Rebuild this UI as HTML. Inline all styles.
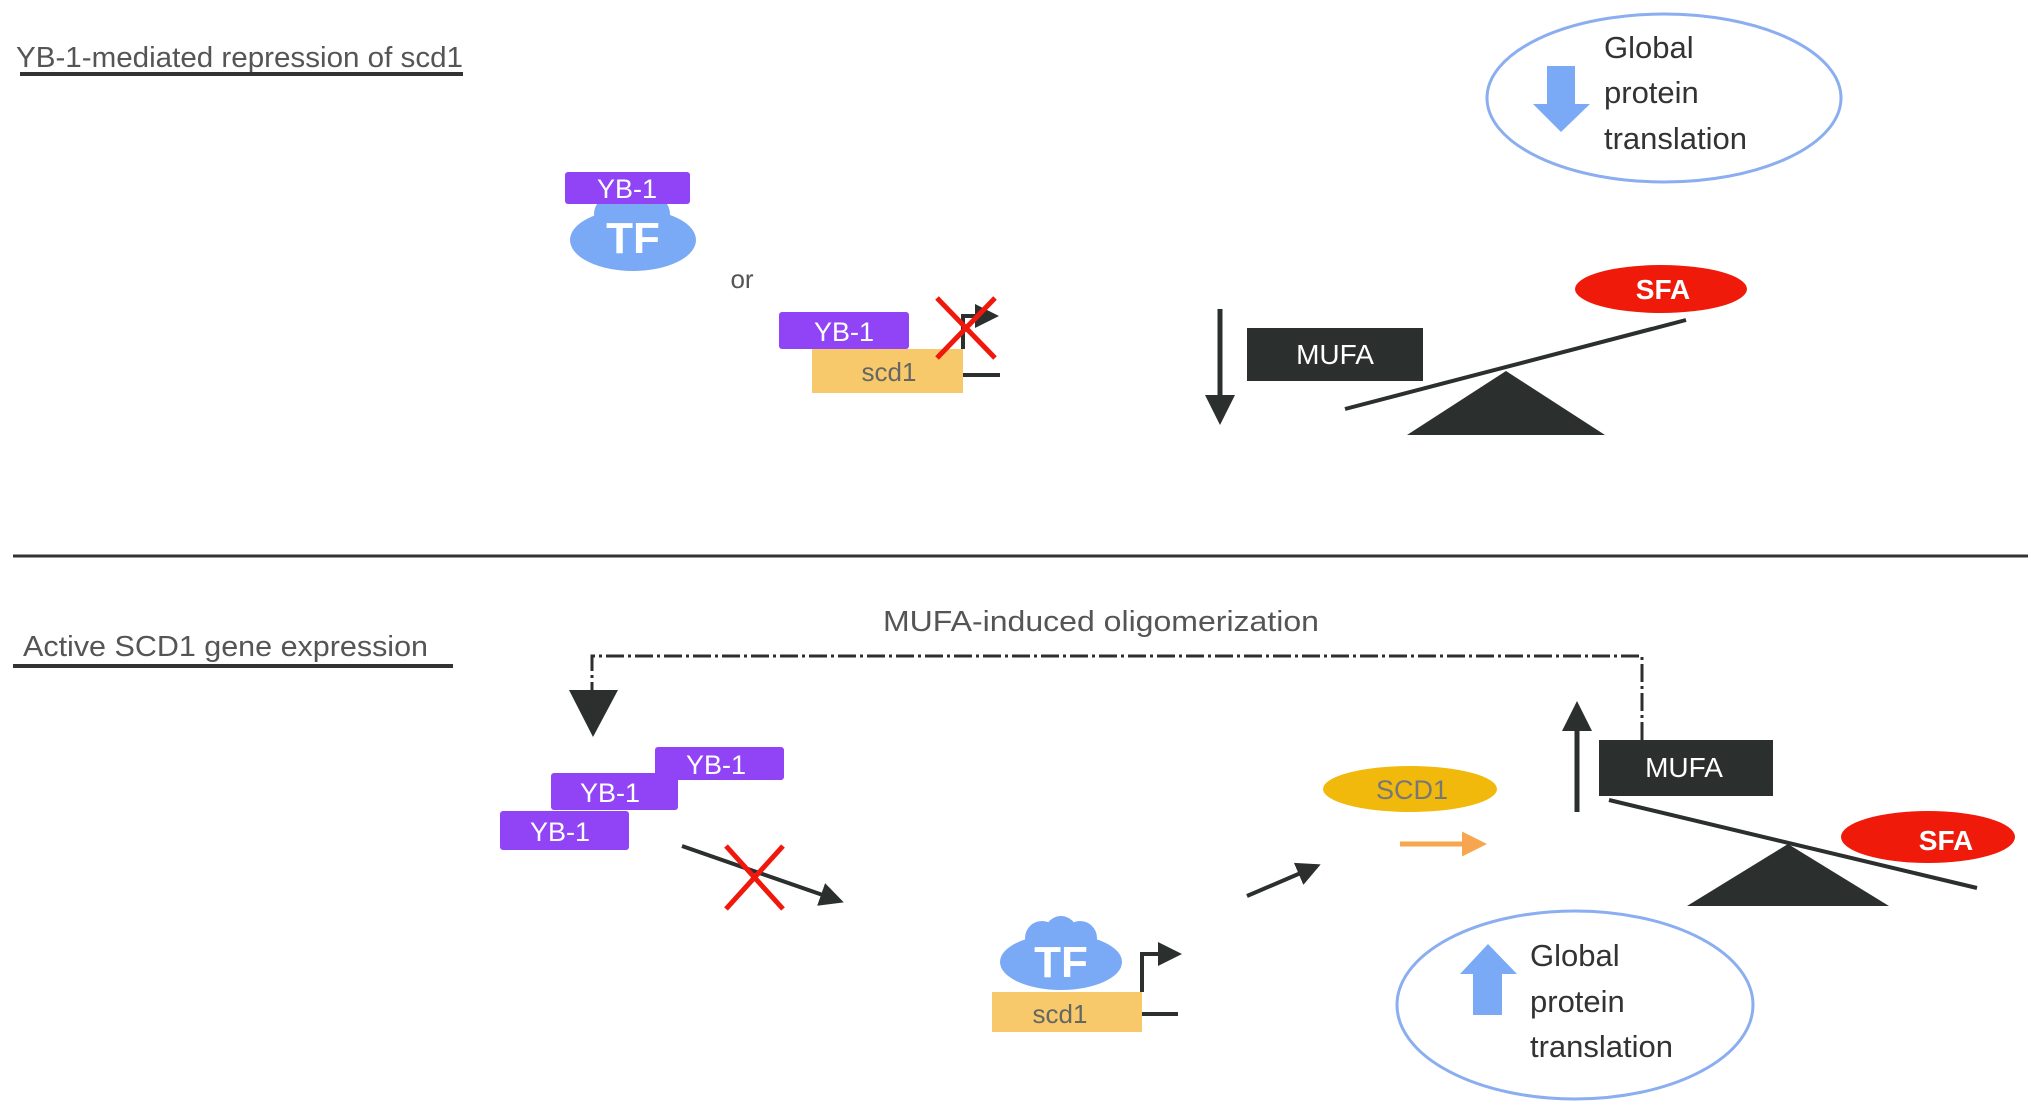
<!DOCTYPE html>
<html><head><meta charset="utf-8"><style>
html,body{margin:0;padding:0;background:#fff;}
svg{display:block;}
text{font-family:"Liberation Sans",sans-serif;}
</style></head><body>
<svg width="2031" height="1108" viewBox="0 0 2031 1108" xmlns="http://www.w3.org/2000/svg">
<defs>
<marker id="ah" markerWidth="6" markerHeight="6" refX="5" refY="3" orient="auto" markerUnits="strokeWidth"><path d="M0,0 L6,3 L0,6 Z" fill="#2b2f2e"/></marker>
<marker id="aho" markerWidth="5" markerHeight="5" refX="4" refY="2.5" orient="auto" markerUnits="strokeWidth"><path d="M0,0 L5,2.5 L0,5 Z" fill="#f7a64f"/></marker>
</defs>

<text x="16" y="67" font-size="29" fill="#555" textLength="447" lengthAdjust="spacingAndGlyphs">YB-1-mediated repression of scd1</text>
<line x1="20" y1="74" x2="463" y2="74" stroke="#333" stroke-width="4"/>

<g fill="#7aaaf5">
<ellipse cx="633" cy="240" rx="63" ry="31"/>
<circle cx="612" cy="214" r="18"/><circle cx="652" cy="214" r="18"/><circle cx="632" cy="205" r="18"/>
</g>
<rect x="565" y="172" width="125" height="32" rx="3" fill="#9044f5"/>
<text x="627" y="198" font-size="27" fill="#fff" text-anchor="middle">YB-1</text>
<text x="633" y="253" font-size="44" font-weight="600" fill="#fff" text-anchor="middle">TF</text>
<text x="742" y="288" font-size="26" fill="#555" text-anchor="middle">or</text>

<rect x="812" y="349" width="151" height="44" fill="#f7c96a"/>
<text x="889" y="381" font-size="26" fill="#666" text-anchor="middle">scd1</text>
<rect x="779" y="312" width="130" height="37" rx="3" fill="#9044f5"/>
<text x="844" y="341" font-size="27" fill="#fff" text-anchor="middle">YB-1</text>
<line x1="963" y1="375" x2="1000" y2="375" stroke="#2b2f2e" stroke-width="4"/>
<polyline points="963,349 963,316 995,316" fill="none" stroke="#2b2f2e" stroke-width="4" marker-end="url(#ah)"/>
<line x1="937" y1="298" x2="995" y2="358" stroke="#f0180c" stroke-width="5"/>
<line x1="995" y1="298" x2="937" y2="358" stroke="#f0180c" stroke-width="5"/>

<line x1="1220" y1="309" x2="1220" y2="420" stroke="#2b2f2e" stroke-width="5" marker-end="url(#ah)"/>
<rect x="1247" y="328" width="176" height="53" fill="#2b2f2e"/>
<text x="1335" y="364" font-size="28" fill="#fff" text-anchor="middle">MUFA</text>
<line x1="1345" y1="409" x2="1686" y2="320" stroke="#2b2f2e" stroke-width="4"/>
<polygon points="1506,371 1407,435 1605,435" fill="#2b2f2e"/>
<ellipse cx="1661" cy="289" rx="86" ry="24" fill="#f01a0a"/>
<text x="1663" y="299" font-size="28" font-weight="bold" fill="#fff" text-anchor="middle">SFA</text>

<ellipse cx="1664" cy="98" rx="177" ry="84" fill="none" stroke="#8aaef0" stroke-width="3"/>
<polygon points="1547,66 1575,66 1575,104 1590,104 1561,132 1533,104 1547,104" fill="#7aaaf5"/>
<text x="1604" y="58" font-size="31" fill="#333">Global</text>
<text x="1604" y="103" font-size="31" fill="#333">protein</text>
<text x="1604" y="149" font-size="31" fill="#333">translation</text>

<line x1="13" y1="556" x2="2028" y2="556" stroke="#333" stroke-width="3"/>

<text x="23" y="656" font-size="29" fill="#555" textLength="405" lengthAdjust="spacingAndGlyphs">Active SCD1 gene expression</text>
<line x1="13" y1="666" x2="453" y2="666" stroke="#333" stroke-width="4"/>
<text x="1101" y="631" font-size="29" fill="#555" text-anchor="middle" textLength="436" lengthAdjust="spacingAndGlyphs">MUFA-induced oligomerization</text>

<polyline points="1642,740 1642,656 592,656 592,692" fill="none" stroke="#2b2f2e" stroke-width="3" stroke-dasharray="18,4,3,4"/>
<polygon points="569,690 618,690 593,737" fill="#2b2f2e"/>

<rect x="655" y="747" width="129" height="33" rx="3" fill="#9044f5"/>
<text x="716" y="774" font-size="27" fill="#fff" text-anchor="middle">YB-1</text>
<rect x="551" y="773" width="127" height="37" rx="3" fill="#9044f5"/>
<text x="610" y="802" font-size="27" fill="#fff" text-anchor="middle">YB-1</text>
<rect x="500" y="811" width="129" height="39" rx="3" fill="#9044f5"/>
<text x="560" y="841" font-size="27" fill="#fff" text-anchor="middle">YB-1</text>

<line x1="682" y1="846" x2="840" y2="901" stroke="#2b2f2e" stroke-width="4" marker-end="url(#ah)"/>
<line x1="726" y1="846" x2="783" y2="909" stroke="#f0180c" stroke-width="5"/>
<line x1="783" y1="846" x2="726" y2="909" stroke="#f0180c" stroke-width="5"/>

<g fill="#7aaaf5">
<ellipse cx="1061" cy="962" rx="61" ry="28"/>
<circle cx="1042" cy="938" r="17"/><circle cx="1080" cy="938" r="17"/><circle cx="1061" cy="932" r="16"/>
</g>
<text x="1061" y="977" font-size="44" font-weight="600" fill="#fff" text-anchor="middle">TF</text>
<rect x="992" y="992" width="150" height="40" fill="#f7c96a"/>
<text x="1060" y="1023" font-size="26" fill="#666" text-anchor="middle">scd1</text>
<line x1="1142" y1="1014" x2="1178" y2="1014" stroke="#2b2f2e" stroke-width="4"/>
<polyline points="1142,992 1142,954 1178,954" fill="none" stroke="#2b2f2e" stroke-width="4" marker-end="url(#ah)"/>

<line x1="1247" y1="896" x2="1317" y2="866" stroke="#2b2f2e" stroke-width="4" marker-end="url(#ah)"/>
<ellipse cx="1410" cy="789" rx="87" ry="23" fill="#f0b90c"/>
<text x="1412" y="799" font-size="27" fill="#777" text-anchor="middle">SCD1</text>
<line x1="1400" y1="844" x2="1482" y2="844" stroke="#f7a64f" stroke-width="5" marker-end="url(#aho)"/>

<line x1="1577" y1="812" x2="1577" y2="706" stroke="#2b2f2e" stroke-width="5" marker-end="url(#ah)"/>
<rect x="1599" y="740" width="174" height="56" fill="#2b2f2e"/>
<text x="1684" y="777" font-size="28" fill="#fff" text-anchor="middle">MUFA</text>
<polygon points="1788,844 1687,906 1889,906" fill="#2b2f2e"/>
<ellipse cx="1928" cy="837" rx="87" ry="26" fill="#f01a0a"/>
<text x="1946" y="850" font-size="28" font-weight="bold" fill="#fff" text-anchor="middle">SFA</text>
<line x1="1609" y1="800" x2="1977" y2="888" stroke="#2b2f2e" stroke-width="4"/>

<ellipse cx="1575" cy="1005" rx="178" ry="94" fill="none" stroke="#8aaef0" stroke-width="3"/>
<polygon points="1488,944 1517,974 1502,974 1502,1015 1473,1015 1473,974 1460,974" fill="#7aaaf5"/>
<text x="1530" y="966" font-size="31" fill="#333">Global</text>
<text x="1530" y="1012" font-size="31" fill="#333">protein</text>
<text x="1530" y="1057" font-size="31" fill="#333">translation</text>
</svg>
</body></html>
